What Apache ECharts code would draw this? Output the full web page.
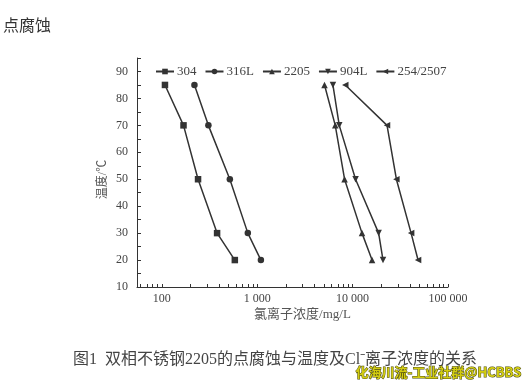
<!DOCTYPE html>
<html><head><meta charset="utf-8">
<script src="https://cdn.jsdelivr.net/npm/echarts@6/dist/echarts.min.js"></script>
<style>html,body{margin:0;padding:0;background:#fff}#c{width:523px;height:387px}</style>
</head><body><div id="c"></div>
<script>
const temps = [85, 70, 50, 30, 20];
const s304 = [108, 169, 240, 380, 583];
const s316L = [220, 308, 517, 798, 1094];
const s2205 = [5080, 6580, 8240, 12550, 16000];
const s904L = [6220, 7250, 10740, 18750, 20840];
const s2507 = [8380, 22960, 28770, 41040, 48530];
const names = ['304', '316L', '2205', '904L', '254/2507'];
const xLabels = [100, 1000, 10000, 100000];
const xTicks = [60,70,80,90,100,200,300,400,500,600,700,800,900,1000,2000,3000,4000,5000,6000,7000,8000,9000,10000,20000,30000,40000,50000,60000,70000,80000,90000,100000];
const yLabels = [10,20,30,40,50,60,70,80,90];
const yTicks = [10,15,20,25,30,35,40,45,50,55,60,65,70,75,80,85,90,95];

const serif = "'Liberation Serif', 'Noto Sans CJK SC', serif";
const dark = '#333';
const symbols = [['rect',0],['circle',0],['triangle',0],['triangle',180],['triangle',90]];
const allData = [s304, s316L, s2205, s904L, s2507];

const series = allData.map((vals, i) => ({
  name: names[i], type: 'line',
  data: vals.map((v, j) => [v, temps[j]]),
  symbol: symbols[i][0], symbolRotate: symbols[i][1], symbolSize: 6.5,
  lineStyle: {color: dark, width: 1.5}, itemStyle: {color: dark},
  animation: false
}));

const chart = echarts.init(document.getElementById('c'));
chart.setOption({
  animation: false,
  grid: {left: 137, right: 75, top: 58, bottom: 100},
  legend: {
    left: 150, top: 60, itemWidth: 18, itemHeight: 7, itemGap: 8,
    textStyle: {fontFamily: serif, fontSize: 13, color: '#444', padding: [0,0,0,-2]},
    data: names
  },
  xAxis: {
    type: 'log', logBase: 10, min: 55, max: 100000,
    name: '氯离子浓度/mg/L', nameLocation: 'middle', nameGap: 21, nameMoveOverlap: false,
    nameTextStyle: {fontFamily: serif, fontSize: 13, color: '#555', padding: [0,0,0,20]},
    axisLine: {lineStyle: {color: dark}},
    axisTick: {inside: true, length: 3, customValues: xTicks, lineStyle: {color: dark}},
    axisLabel: {customValues: xLabels, fontFamily: serif, fontSize: 12, color: '#444', margin: 6,
      formatter: v => String(Math.round(v)).replace(/\B(?=(\d{3})+(?!\d))/g, ' ')},
    splitLine: {show: false}, minorTick: {show: false}
  },
  yAxis: {
    type: 'value', min: 10, max: 95, interval: 10,
    name: '温度/℃', nameLocation: 'middle', nameGap: 28, nameRotate: 90, nameMoveOverlap: false,
    nameTextStyle: {fontFamily: serif, fontSize: 12, color: '#555', padding: [0,14,0,0]},
    axisLine: {show: true, lineStyle: {color: dark}},
    axisTick: {show: true, inside: true, length: 4, customValues: yTicks, lineStyle: {color: dark}},
    axisLabel: {customValues: yLabels, fontFamily: serif, fontSize: 12, color: '#444', margin: 9},
    splitLine: {show: false}
  },
  graphic: [
    {type: 'text', left: 3, top: 17, style: {text: '点腐蚀', font: "16px 'Noto Sans CJK SC'", fill: '#333'}},
    {type: 'text', left: 73, top: 352, style: {text: '图1  双相不锈钢2205的点腐蚀与温度及Cl⁻离子浓度的关系', font: "16px 'Liberation Serif', 'Noto Sans CJK SC'", fill: '#444'}},
    {type: 'text', left: 355, top: 365, z: 100, style: {text: '化海川流-工业社群@HCBBS', font: "bold 13px 'Noto Sans CJK SC'", fill: '#d2cc10', stroke: '#4a4a10', lineWidth: 1}}
  ],
  series: series
});
</script></body></html>
